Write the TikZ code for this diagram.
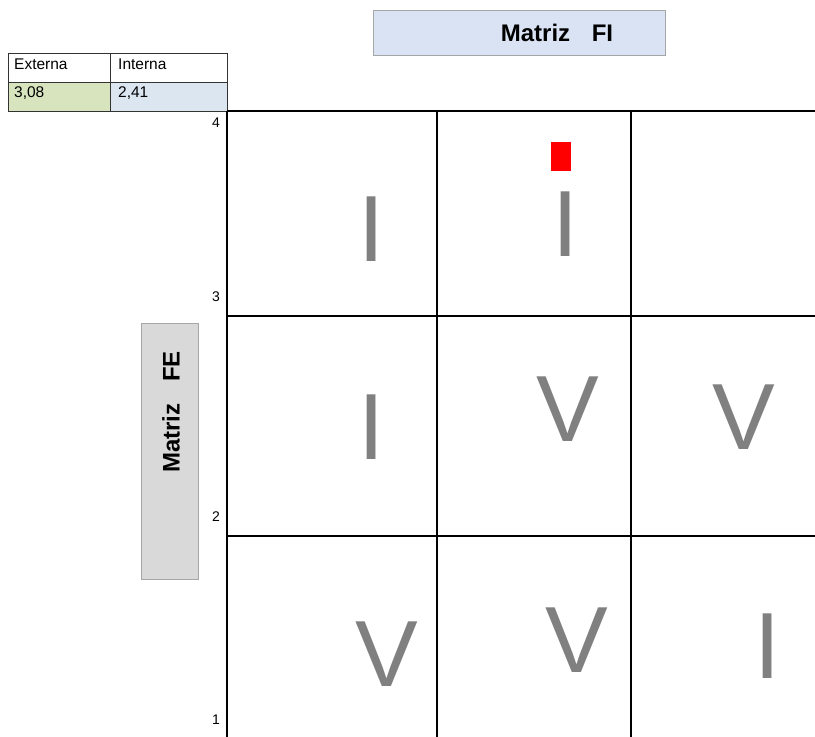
\documentclass[tikz,border=0pt]{standalone}
\usepackage{fontspec}
\setmainfont{Liberation Sans}
\usetikzlibrary{positioning}
\definecolor{titleBlue}{HTML}{DAE3F3}
\definecolor{cellGreen}{HTML}{D7E4BD}
\definecolor{cellBlue}{HTML}{DCE6F1}
\definecolor{boxGray}{HTML}{D9D9D9}
\definecolor{frameGray}{HTML}{A6A6A6}
\definecolor{letterGray}{HTML}{808080}
\definecolor{markRed}{HTML}{FF0000}

\begin{document}
\begin{tikzpicture}[
  x=1pt, y=-1pt,
  font=\fontsize{14}{16}\selectfont,
  cellText/.style={anchor=west, inner sep=0pt, font=\fontsize{15.5}{17}\selectfont},
  axisLabel/.style={anchor=east, inner sep=0pt},
  quadLetter/.style={inner sep=0pt, text=letterGray, font=\fontsize{94}{94}\selectfont},
  titleText/.style={inner sep=0pt, font=\fontsize{24}{26}\selectfont\bfseries}
]
  \useasboundingbox (0, 0) rectangle (815, 737);

  % Value table (top left)
  \fill[cellGreen] (8, 82) rectangle (110, 111);
  \fill[cellBlue] (110, 82) rectangle (227, 111);
  \draw[line width=0.8pt, black!80] (8, 53) rectangle (227, 111);
  \draw[line width=0.8pt, black!80] (8, 82) -- (227, 82);
  \draw[line width=0.8pt, black!80] (110, 53) -- (110, 111);
  \node[cellText] (extHead) at (14, 64) {Externa};
  \node[cellText] (intHead) at (118, 64) {Interna};
  \node[cellText] (extVal) at (14, 93) {3,08};
  \node[cellText] (intVal) at (118, 93) {2,41};

  % Axis titles
  \draw[frameGray, fill=titleBlue, line width=0.8pt] (373, 10) rectangle (665, 55);
  \node[titleText] (fiTitle) at (557, 33) {Matriz\hspace{0.9em}FI};
  \draw[frameGray, fill=boxGray, line width=0.8pt] (141, 323) rectangle (198, 579);
  \node[titleText, rotate=90] (feTitle) at (171, 412) {Matriz\hspace{0.9em}FE};

  % Grid
  \draw[line width=1.2pt] (227, 111) -- (815, 111);
  \draw[line width=1.2pt] (227, 316) -- (815, 316);
  \draw[line width=1.2pt] (227, 536) -- (815, 536);
  \draw[line width=1.2pt] (227, 111) -- (227, 737);
  \draw[line width=1.2pt] (437, 111) -- (437, 737);
  \draw[line width=1.2pt] (631, 111) -- (631, 737);

  % FE scale
  \foreach \y/\val in {123/4, 297/3, 517/2, 720/1} {
    \node[axisLabel] (fe\val) at (220, \y) {\val};
  }

  % Quadrant letters
  \node[quadLetter] (q11) at (372, 229.5) {I};
  \node[quadLetter] (q12) at (566, 224.5) {I};
  \node[quadLetter] (q21) at (371.5, 427.5) {I};
  \node[quadLetter] (q22) at (568, 409) {V};
  \node[quadLetter] (q23) at (743.5, 417.5) {V};
  \node[quadLetter] (q31) at (387, 654) {V};
  \node[quadLetter] (q32) at (576.5, 640) {V};
  \node[quadLetter] (q33) at (768, 646.5) {I};

  % Position marker
  \fill[markRed] (551, 142) rectangle (571, 171);

\end{tikzpicture}
\end{document}
